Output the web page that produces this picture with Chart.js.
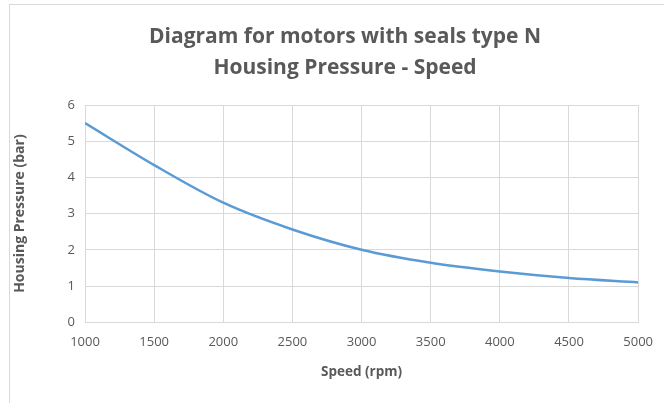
<!DOCTYPE html>
<html>
<head>
<meta charset="utf-8">
<script src="https://cdn.jsdelivr.net/npm/chart.js@4"></script>
<style>
  body { margin: 0; background: #fff; overflow: hidden; }
  #frame {
    position: absolute; left: 9px; top: 4px; width: 655px; height: 399px;
    border-left: 1px solid #d9d9d9; border-top: 1px solid #d9d9d9;
  }
  #wrap { position: absolute; left: 0; top: 0; width: 655px; height: 399px; }
</style>
</head>
<body>
<div id="frame"><div id="wrap"><canvas id="chart"></canvas></div></div>
<script>
// speed (rpm) and housing pressure (bar)
const speeds = [1000, 1500, 2000, 2500, 3000, 3500, 4000, 4500, 5000];
const pressures = [5.5, 4.34, 3.3, 2.56, 2.0, 1.64, 1.4, 1.22, 1.1];
const titleLines = ['Diagram for motors with seals type N', 'Housing Pressure - Speed'];

const points = speeds.map((s, i) => ({ x: s, y: pressures[i] }));
const grey = '#595959';
const gridGrey = '#d9d9d9';
const fontFamily = '"Open Sans", sans-serif';

// the original chart frame runs past the right edge of the crop,
// so the title centre sits left of the plot centre
const plotTitle = {
    id: 'plotTitle',
    afterDraw(chart) {
        const c = chart.ctx;
        c.save();
        c.fillStyle = grey;
        c.font = 'bold 21px ' + fontFamily;
        c.textAlign = 'center';
        c.textBaseline = 'middle';
        titleLines.forEach((line, i) => c.fillText(line, 335, 32 + i * 31));
        c.restore();
    }
};

const ctx = document.querySelector('#chart').getContext('2d');
const chart = new Chart(ctx, {
    type: 'line',
    data: {
        datasets: [{
            label: 'Housing Pressure',
            data: points,
            borderColor: '#5b9bd5',
            borderWidth: 2.5,
            pointRadius: 0,
            cubicInterpolationMode: 'monotone',
            fill: false
        }]
    },
    options: {
        responsive: true,
        maintainAspectRatio: false,
        animation: false,
        layout: {
            padding: { left: 0, right: 25, top: 100, bottom: 24 }
        },
        plugins: {
            legend: { display: false },
            tooltip: { enabled: false },
            title: { display: false }
        },
        scales: {
            x: {
                type: 'linear',
                min: 1000,
                max: 5000,
                ticks: {
                    stepSize: 500,
                    color: grey,
                    font: { family: fontFamily, size: 13 },
                    maxRotation: 0,
                    padding: 12,
                    callback: (v) => String(v)
                },
                grid: { color: gridGrey, drawTicks: false },
                border: { color: gridGrey },
                title: {
                    display: true,
                    text: 'Speed (rpm)',
                    color: grey,
                    font: { family: fontFamily, size: 13.5, weight: 'bold' },
                    padding: { top: 2, bottom: 0 }
                }
            },
            y: {
                min: 0,
                max: 6,
                ticks: {
                    stepSize: 1,
                    color: grey,
                    font: { family: fontFamily, size: 13 },
                    padding: 10
                },
                grid: { color: gridGrey, drawTicks: false },
                border: { display: false },
                title: {
                    display: true,
                    text: 'Housing Pressure (bar)',
                    color: grey,
                    font: { family: fontFamily, size: 14, weight: 'bold' },
                    padding: { top: 2, bottom: 8 }
                },
                afterFit: function(scale) {
                    scale.width = 75;
                }
            }
        }
    },
    plugins: [plotTitle]
});
</script>
</body>
</html>
